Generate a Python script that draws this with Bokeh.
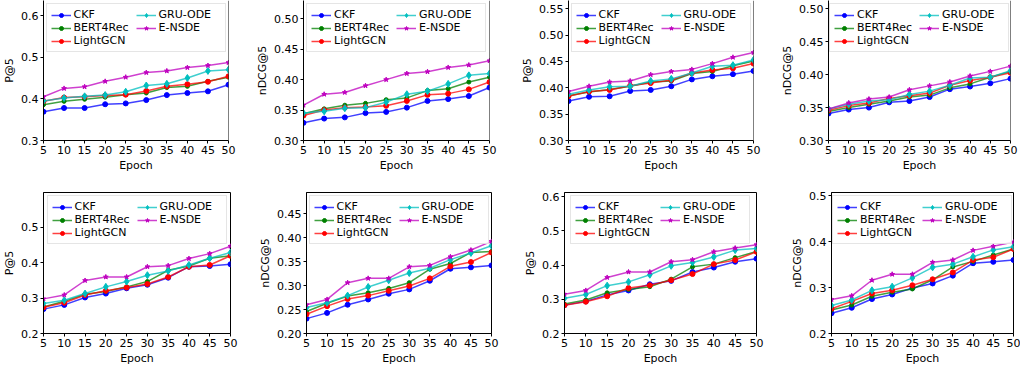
from bokeh.plotting import figure
from bokeh.layouts import row, column
from bokeh.models import (FixedTicker, NumeralTickFormatter, Range1d, Span,
                          Legend, LegendItem)
from bokeh.embed import file_html
from bokeh.resources import INLINE

epochs = [5, 10, 15, 20, 25, 30, 35, 40, 45, 50]
methods = ["CKF", "BERT4Rec", "LightGCN", "GRU-ODE", "E-NSDE"]

# panel 1 (P@5)
p1_ckf = [0.369, 0.378, 0.378, 0.387, 0.389, 0.397, 0.409, 0.414, 0.418, 0.434]
p1_bert = [0.386, 0.394, 0.399, 0.404, 0.410, 0.414, 0.427, 0.430, 0.442, 0.452]
p1_lgcn = [0.394, 0.403, 0.405, 0.408, 0.410, 0.419, 0.430, 0.435, 0.441, 0.454]
p1_gru = [0.395, 0.402, 0.406, 0.409, 0.417, 0.432, 0.436, 0.450, 0.467, 0.470]
p1_ensde = [0.405, 0.425, 0.429, 0.442, 0.452, 0.463, 0.467, 0.475, 0.480, 0.487]
# panel 2 (nDCG@5)
p2_ckf = [0.329, 0.336, 0.338, 0.345, 0.347, 0.354, 0.365, 0.368, 0.373, 0.387]
p2_bert = [0.344, 0.352, 0.358, 0.361, 0.367, 0.370, 0.382, 0.385, 0.396, 0.404]
p2_lgcn = [0.341, 0.350, 0.354, 0.355, 0.357, 0.365, 0.375, 0.377, 0.384, 0.396]
p2_gru = [0.345, 0.348, 0.353, 0.354, 0.363, 0.376, 0.381, 0.393, 0.407, 0.410]
p2_ensde = [0.358, 0.376, 0.379, 0.390, 0.400, 0.410, 0.413, 0.420, 0.424, 0.431]
# panel 3 (P@5)
p3_ckf = [0.375, 0.383, 0.384, 0.394, 0.396, 0.403, 0.416, 0.422, 0.426, 0.432]
p3_bert = [0.385, 0.392, 0.397, 0.403, 0.411, 0.413, 0.427, 0.431, 0.442, 0.451]
p3_lgcn = [0.384, 0.393, 0.396, 0.404, 0.409, 0.415, 0.428, 0.434, 0.437, 0.446]
p3_gru = [0.388, 0.396, 0.402, 0.403, 0.413, 0.417, 0.428, 0.441, 0.443, 0.453]
p3_ensde = [0.393, 0.403, 0.411, 0.413, 0.425, 0.431, 0.435, 0.446, 0.458, 0.467]
# panel 4 (nDCG@5)
p4_ckf = [0.341, 0.347, 0.350, 0.358, 0.360, 0.366, 0.378, 0.382, 0.387, 0.394]
p4_bert = [0.344, 0.350, 0.355, 0.360, 0.366, 0.369, 0.380, 0.386, 0.396, 0.405]
p4_lgcn = [0.346, 0.353, 0.357, 0.364, 0.368, 0.372, 0.384, 0.391, 0.396, 0.403]
p4_gru = [0.348, 0.355, 0.360, 0.362, 0.370, 0.375, 0.384, 0.395, 0.396, 0.406]
p4_ensde = [0.348, 0.357, 0.363, 0.366, 0.377, 0.383, 0.389, 0.398, 0.405, 0.413]
# panel 5 (P@5)
p5_ckf = [0.269, 0.281, 0.302, 0.313, 0.328, 0.338, 0.358, 0.389, 0.391, 0.396]
p5_bert = [0.275, 0.291, 0.311, 0.319, 0.332, 0.347, 0.379, 0.391, 0.413, 0.420]
p5_lgcn = [0.274, 0.287, 0.309, 0.321, 0.330, 0.340, 0.360, 0.389, 0.394, 0.420]
p5_gru = [0.285, 0.294, 0.313, 0.332, 0.347, 0.365, 0.377, 0.394, 0.413, 0.429]
p5_ensde = [0.298, 0.309, 0.350, 0.360, 0.360, 0.389, 0.392, 0.412, 0.426, 0.447]
# panel 6 (nDCG@5)
p6_ckf = [0.231, 0.243, 0.260, 0.271, 0.283, 0.292, 0.310, 0.335, 0.338, 0.342]
p6_bert = [0.246, 0.263, 0.278, 0.285, 0.294, 0.306, 0.334, 0.346, 0.369, 0.371]
p6_lgcn = [0.240, 0.257, 0.272, 0.279, 0.289, 0.299, 0.315, 0.340, 0.349, 0.369]
p6_gru = [0.254, 0.264, 0.279, 0.297, 0.311, 0.326, 0.336, 0.354, 0.368, 0.383]
p6_ensde = [0.260, 0.271, 0.306, 0.315, 0.315, 0.339, 0.342, 0.360, 0.374, 0.392]
# panel 7 (P@5)
p7_ckf = [0.283, 0.294, 0.313, 0.326, 0.344, 0.354, 0.380, 0.393, 0.410, 0.419]
p7_bert = [0.286, 0.298, 0.319, 0.329, 0.337, 0.359, 0.395, 0.403, 0.422, 0.440]
p7_lgcn = [0.283, 0.293, 0.309, 0.333, 0.341, 0.356, 0.374, 0.403, 0.415, 0.439]
p7_gru = [0.303, 0.314, 0.340, 0.351, 0.372, 0.398, 0.408, 0.424, 0.444, 0.449]
p7_ensde = [0.315, 0.326, 0.364, 0.380, 0.380, 0.410, 0.416, 0.439, 0.450, 0.460]
# panel 8 (nDCG@5)
p8_ckf = [0.244, 0.256, 0.275, 0.285, 0.299, 0.309, 0.326, 0.353, 0.356, 0.360]
p8_bert = [0.251, 0.262, 0.281, 0.290, 0.297, 0.317, 0.345, 0.357, 0.371, 0.384]
p8_lgcn = [0.254, 0.270, 0.287, 0.294, 0.305, 0.318, 0.333, 0.360, 0.366, 0.384]
p8_gru = [0.261, 0.273, 0.294, 0.302, 0.321, 0.344, 0.351, 0.367, 0.382, 0.389]
p8_ensde = [0.274, 0.282, 0.316, 0.329, 0.329, 0.355, 0.360, 0.381, 0.390, 0.399]

ylabels = ["P@5", "nDCG@5", "P@5", "nDCG@5", "P@5", "nDCG@5", "P@5", "nDCG@5"]
yticks_1 = [0.3, 0.4, 0.5, 0.6]
yticks_2 = [0.30, 0.35, 0.40, 0.45, 0.50]
yticks_3 = [0.30, 0.35, 0.40, 0.45, 0.50, 0.55]
yticks_4 = [0.30, 0.35, 0.40, 0.45, 0.50]
yticks_5 = [0.2, 0.3, 0.4, 0.5]
yticks_6 = [0.20, 0.25, 0.30, 0.35, 0.40, 0.45]
yticks_7 = [0.2, 0.3, 0.4, 0.5, 0.6]
yticks_8 = [0.2, 0.3, 0.4, 0.5]

colors = ["#0000ff", "#008000", "#ff0000", "#00bfbf", "#bf00bf"]
markers = ["circle", "circle", "circle", "diamond", "star"]
msizes = [5, 4, 5, 7, 5]

FONT = "DejaVu Sans"
FS = "11px"

series = [
    [p1_ckf, p1_bert, p1_lgcn, p1_gru, p1_ensde],
    [p2_ckf, p2_bert, p2_lgcn, p2_gru, p2_ensde],
    [p3_ckf, p3_bert, p3_lgcn, p3_gru, p3_ensde],
    [p4_ckf, p4_bert, p4_lgcn, p4_gru, p4_ensde],
    [p5_ckf, p5_bert, p5_lgcn, p5_gru, p5_ensde],
    [p6_ckf, p6_bert, p6_lgcn, p6_gru, p6_ensde],
    [p7_ckf, p7_bert, p7_lgcn, p7_gru, p7_ensde],
    [p8_ckf, p8_bert, p8_lgcn, p8_gru, p8_ensde],
]
yticks = [yticks_1, yticks_2, yticks_3, yticks_4, yticks_5, yticks_6, yticks_7, yticks_8]
yfmts = ["0.0", "0.00", "0.00", "0.00", "0.0", "0.00", "0.0", "0.0"]
# y ranges (start, end)
yranges = [(0.3, 0.636), (0.3, 0.530), (0.3, 0.5658), (0.3, 0.5127),
           (0.2, 0.599), (0.2, 0.494), (0.2, 0.6126), (0.2, 0.507)]
# layout: (left border, frame width, right border)
hlay = [(43, 185, 23), (52, 186, 27), (52, 185, 23), (52, 182, 10),
        (41, 187, 24), (52, 185, 30), (42, 192, 23), (52, 182, 10)]


def style_axis(ax):
    ax.major_label_text_font = FONT
    ax.major_label_text_font_size = FS
    ax.major_label_text_color = "black"
    ax.axis_label_text_font = FONT
    ax.axis_label_text_font_size = FS
    ax.axis_label_text_font_style = "normal"
    ax.axis_label_text_color = "black"
    ax.major_tick_out = 3
    ax.major_tick_in = 0
    ax.minor_tick_out = 0
    ax.minor_tick_in = 0
    ax.major_label_standoff = 2
    ax.axis_label_standoff = 2
    ax.axis_line_color = "black"
    ax.major_tick_line_color = "black"


figs = []
for i in range(8):
    top_row = i < 4
    lb, fw, rb = hlay[i]
    if top_row:
        tb, fh, bb = 0, 140, 34
    else:
        tb, fh, bb = 18, 141, 34
    p = figure(frame_width=fw, frame_height=fh,
               min_border_left=lb, min_border_right=rb,
               min_border_top=tb, min_border_bottom=bb,
               x_range=Range1d(5, 50), y_range=Range1d(*yranges[i]),
               output_backend="svg", toolbar_location=None)
    p.xgrid.visible = False
    p.ygrid.visible = False
    p.background_fill_color = "white"
    p.border_fill_color = "white"

    xax = p.xaxis[0]
    yax = p.yaxis[0]
    xax.ticker = FixedTicker(ticks=epochs)
    xax.axis_label = "Epoch"
    yax.ticker = FixedTicker(ticks=yticks[i])
    yax.formatter = NumeralTickFormatter(format=yfmts[i])
    yax.axis_label = ylabels[i]
    style_axis(xax)
    style_axis(yax)

    if top_row:
        # top edge is cut off in the reference: draw only the right spine
        p.outline_line_color = None
        p.add_layout(Span(location=p.x_range.end, dimension="height",
                          line_color="black", line_width=1))
    else:
        p.outline_line_color = "black"
        p.outline_line_alpha = 1.0

    items = []
    for k, name in enumerate(methods):
        vals = series[i][k]
        lr = p.line(epochs, vals, line_color=colors[k], line_width=1.5, line_alpha=0.75)
        sr = p.scatter(epochs, vals, marker=markers[k], size=msizes[k],
                       fill_color=colors[k], line_color=colors[k])
        items.append(LegendItem(label=name, renderers=[lr, sr]))
    leg = Legend(items=items, location="top_center", orientation="vertical", nrows=3)
    leg.label_text_font = FONT
    leg.label_text_font_size = FS
    leg.label_text_color = "black"
    leg.label_height = 10
    leg.glyph_height = 10
    leg.glyph_width = 20
    leg.label_standoff = 3
    leg.label_width = 62
    leg.spacing = 0
    leg.padding = 4
    leg.margin = 3
    leg.border_line_color = "#cccccc"
    leg.border_line_width = 1
    leg.background_fill_alpha = 0.85
    p.add_layout(leg)
    figs.append(p)

layout = column(row(*figs[:4]), row(*figs[4:]))
open("out.html", "w").write(file_html(layout, INLINE))
